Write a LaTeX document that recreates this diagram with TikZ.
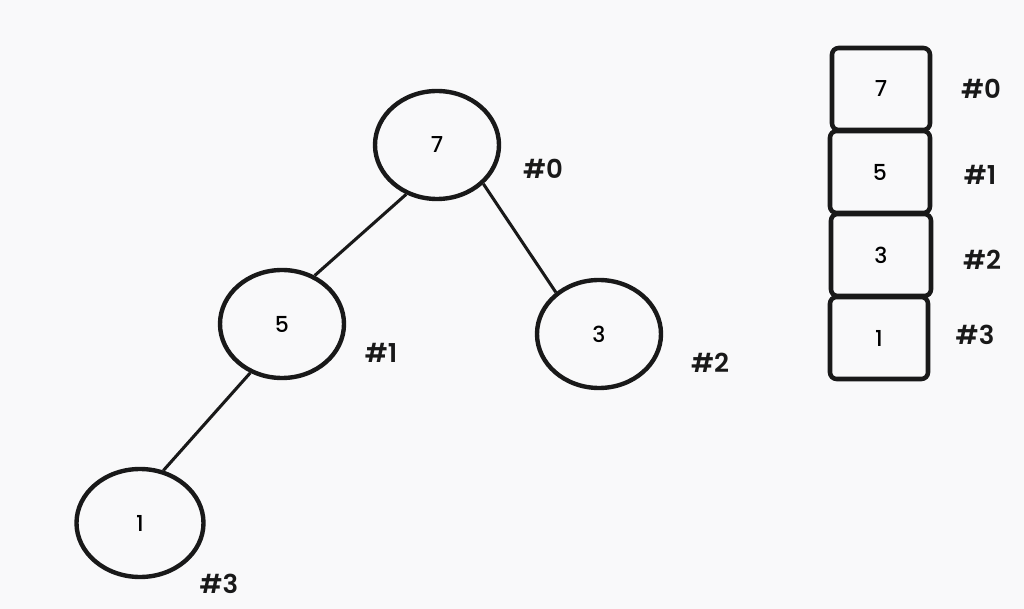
\documentclass[tikz,border=0pt]{standalone}
\usepackage{fontspec}
\setmainfont{Poppins}
\newfontfamily\labfont{Poppins SemiBold}
\newfontfamily\digfont{Poppins Medium}
\usetikzlibrary{shapes.geometric}
\definecolor{bg}{RGB}{249,249,250}
\definecolor{ink}{RGB}{25,25,25}
\begin{document}
\begin{tikzpicture}[x=0.75pt,y=-0.75pt,
  treenode/.style={draw=ink,line width=3.3pt,ellipse,minimum width=124*0.75pt,minimum height=108*0.75pt,inner sep=0pt,font=\digfont\fontsize{16.5}{20}\selectfont},
  cell/.style={draw=ink,line width=3.4pt,rounded corners=5pt,minimum width=98*0.75pt,minimum height=82*0.75pt,inner sep=0pt,font=\digfont\fontsize{16.5}{20}\selectfont},
  idx/.style={font=\labfont\fontsize{19.5}{24}\selectfont,text=ink},
  edge/.style={draw=ink,line width=2.3pt}]
\fill[bg] (0,0) rectangle (1024,609);
\useasboundingbox (0,0) rectangle (1024,609);
\node[treenode] (n7) at (437,145) {7};
\node[treenode] (n5) at (282,324) {5};
\node[treenode] (n3) at (599,334) {3};
\node[treenode,minimum width=127*0.75pt] (n1) at (140,523) {1};
\draw[edge] (n7.-122) -- (n5.56);
\draw[edge] (n7.-40) -- (n3.136);
\draw[edge] (n5.-123) -- (n1.66);
\node[idx] (l0) at (543,169) {\#0};
\node[idx] (l1) at (381,353) {\#1};
\node[idx] (l2) at (710,363) {\#2};
\node[idx] (l3) at (219,584) {\#3};
\node[cell] (c7) at (881,89) {7};
\node[cell,minimum width=100*0.75pt] (c5) at (880,172) {5};
\node[cell,minimum width=100*0.75pt] (c3) at (881,255) {3};
\node[cell] (c1) at (879,338) {1};
\node[idx] (k0) at (981,89) {\#0};
\node[idx] (k1) at (980,175) {\#1};
\node[idx] (k2) at (982,260) {\#2};
\node[idx] (k3) at (975,335) {\#3};
\end{tikzpicture}
\end{document}
